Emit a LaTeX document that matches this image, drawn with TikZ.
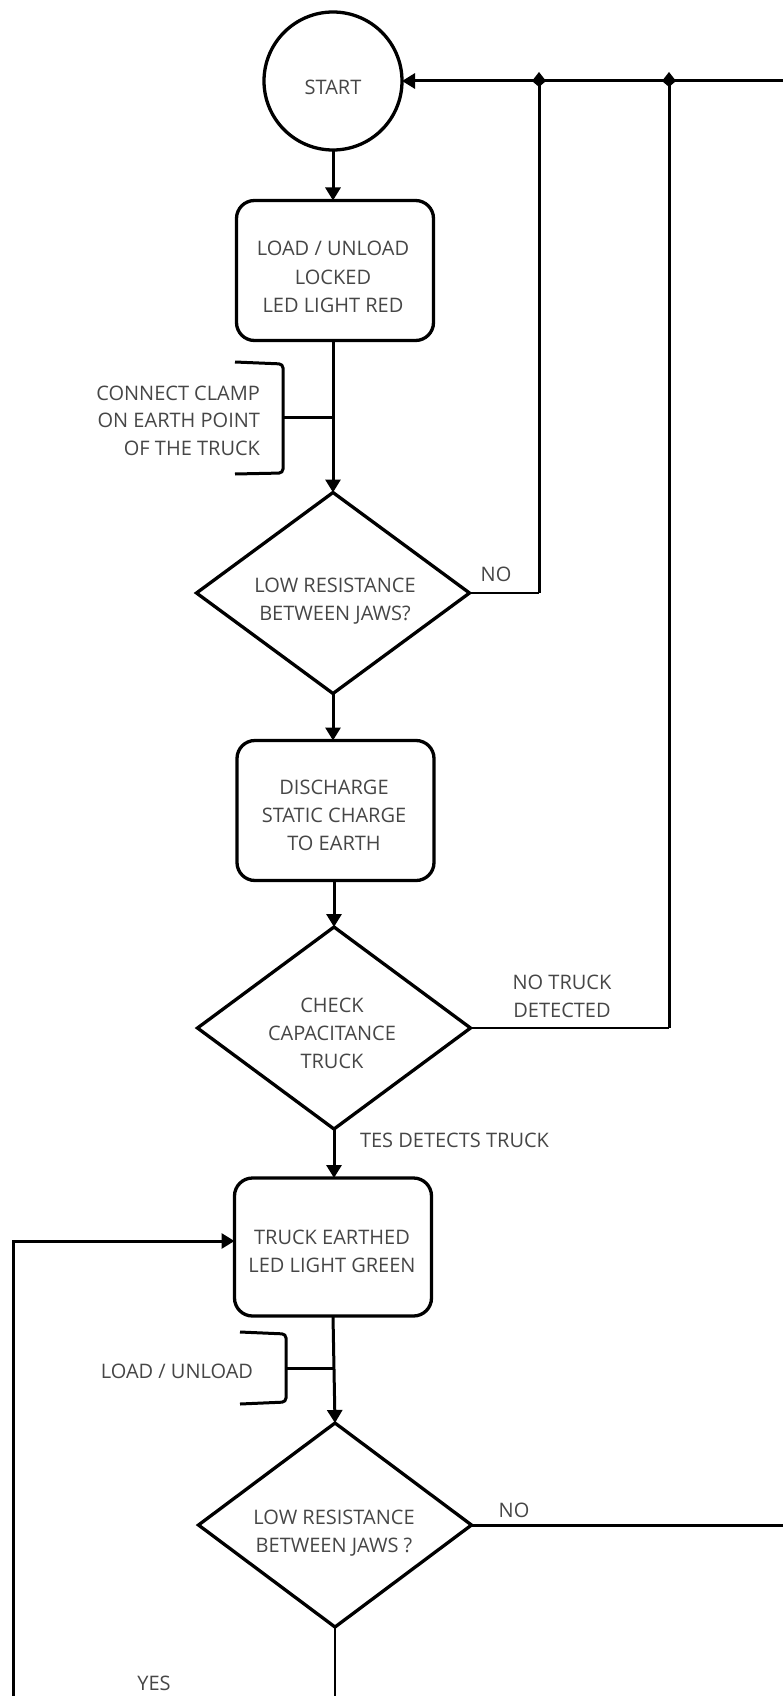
\documentclass[tikz,border=0pt]{standalone}
\usepackage{fontspec}
\setmainfont{Open Sans}
\usetikzlibrary{arrows.meta,shapes.geometric}
\definecolor{txtgray}{RGB}{70,70,70}
\begin{document}
\begin{tikzpicture}[x=1pt,y=-1pt,
  every node/.style={inner sep=0pt, outer sep=0pt},
  txt/.style={font=\fontsize{20}{28}\selectfont, text=txtgray, align=center, anchor=base},
  txtr/.style={font=\fontsize{20}{27.5}\selectfont, text=txtgray, align=right, anchor=base east},
  txtl/.style={font=\fontsize{20}{28}\selectfont, text=txtgray, anchor=base west},
  boxst/.style={draw, line width=3.3pt, rounded corners=18pt, minimum width=197pt, minimum height=140pt},
  dia/.style={draw, diamond, line width=3.3pt, minimum width=273pt, minimum height=201pt},
  conn/.style={line width=3pt},
  thinln/.style={line width=1.8pt},
  arr/.style={-{Triangle[length=13pt,width=15pt]}},
  jdot/.style={fill=black},
]
\useasboundingbox (0,0) rectangle (783,1696);

% shapes
\node[circle, draw, line width=3.3pt, minimum size=138pt] (start) at (333,81) {};
\node[boxst] (b1) at (335,270.5) {};
\node[dia] (d1) at (333,593) {};
\node[boxst] (b2) at (335.5,810.5) {};
\node[dia, minimum height=202pt] (d2) at (334,1028) {};
\node[boxst, minimum height=138pt] (b3) at (333,1247) {};
\node[dia, minimum height=204pt] (d3) at (335,1525) {};

% texts
\node[txt] (startt) at (333,95) {START};
\node[txt] (b1t) at (333,312) {LOAD / UNLOAD\\LOCKED\\LED LIGHT RED};
\node[txtr] (br1t) at (260,455) {CONNECT CLAMP\\ON EARTH POINT\\OF THE TRUCK};
\node[txt] (d1t) at (335,620) {LOW RESISTANCE\\BETWEEN JAWS?};
\node[txt] (no1) at (496,581) {NO};
\node[txt] (b2t) at (334,850) {DISCHARGE\\STATIC CHARGE\\TO EARTH};
\node[txt] (d2t) at (332,1068) {CHECK\\CAPACITANCE\\TRUCK};
\node[txt] (no2) at (562,1017) {NO TRUCK\\DETECTED};
\node[txtl] (yes2) at (360,1147) {TES DETECTS TRUCK};
\node[txt] (b3t) at (332,1272) {TRUCK EARTHED\\LED LIGHT GREEN};
\node[txtr] (br2t) at (253,1378) {LOAD / UNLOAD};
\node[txt] (d3t) at (334,1552) {LOW RESISTANCE\\BETWEEN JAWS ?};
\node[txt] (no3) at (514,1517) {NO};
\node[txt] (yes3) at (154,1690) {YES};

% coordinates
\coordinate (topR) at (783,81);
\coordinate (j1) at (539,81);
\coordinate (j2) at (669,81);
\coordinate (r3) at (783,1525);
\coordinate (bot3) at (335,1696);
\coordinate (lb) at (13,1696);
\coordinate (lt) at (13,1241);
\coordinate (br1) at (333,417);
\coordinate (br2) at (334,1368);

% main flow
\draw[conn,arr] (start.south) -- (start.south |- b1.north);
\draw[conn,arr] (b1.south -| d1.north) -- (d1.north);
\draw[conn,arr] (d1.south) -- (d1.south |- b2.north);
\draw[conn,arr] (b2.south -| d2.north) -- (d2.north);
\draw[conn,arr] (d2.south) -- (d2.south |- b3.north);
\draw[conn,arr] (b3.south) -- (d3.north);

% brackets
\draw[conn, rounded corners=4pt] (235,362) -- (283,364) -- (283,473) -- (235,474);
\draw[conn] (283,417) -- (br1);
\draw[conn, rounded corners=4pt] (240,1332) -- (286,1334) -- (286,1402) -- (240,1404);
\draw[conn] (286,1368) -- (br2);

% return lines
\draw[conn,arr] (topR) -- (start.east);
\draw[thinln] (d1.east) -- (d1.east -| j1);
\draw[conn] (d1.east -| j1) -- (j1);
\draw[thinln] (d2.east) -- (d2.east -| j2);
\draw[conn] (d2.east -| j2) -- (j2);
\draw[conn] (d3.east) -- (r3);
\draw[thinln] (d3.south) -- (bot3);
\draw[conn,arr] (lb) -- (lt) -- (b3.west |- lt);

% junction marks
\fill[jdot] (j1) ++(0,-9) -- ++(7,9) -- ++(-7,6) -- ++(-7,-6) -- cycle;
\fill[jdot] (j2) ++(0,-9) -- ++(7,9) -- ++(-7,6) -- ++(-7,-6) -- cycle;
\end{tikzpicture}
\end{document}
